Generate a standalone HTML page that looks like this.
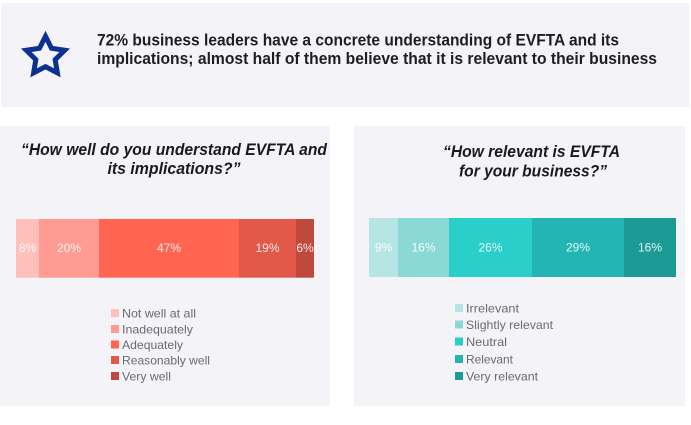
<!DOCTYPE html>
<html>
<head>
<meta charset="utf-8">
<style>
  html, body { margin:0; padding:0; background:#ffffff; }
  svg { display:block; }
  .hdr { font-family:"Liberation Sans", sans-serif; font-weight:bold; font-size:16.5px; fill:#1e1e22; }
  .ttl { font-family:"Liberation Sans", sans-serif; font-weight:bold; font-style:italic; font-size:17px; fill:#1a1a1e; }
  .lbl { font-family:"Liberation Sans", sans-serif; font-size:12px; fill:#ffffff; fill-opacity:0.88; }
  .leg { font-family:"Liberation Sans", sans-serif; font-size:12px; fill:#6a6a72; }
</style>
</head>
<body>
<svg width="691" height="425" viewBox="0 0 691 425" xmlns="http://www.w3.org/2000/svg">
  <rect x="0" y="0" width="691" height="425" fill="#ffffff"/>

  <!-- Header box -->
  <rect x="1" y="3" width="688" height="104" fill="#f3f3f8"/>
  <!-- Star outline -->
  <path fill="#0c3191" fill-rule="evenodd" d="
    M45.5,30.7 L53.14,45.98 L70.04,48.53 L57.86,60.52 L60.67,77.38 L45.5,69.5 L30.33,77.38 L33.14,60.52 L20.96,48.53 L37.86,45.98 Z
    M45.5,41.9 L49.83,50.56 L59.38,52.0 L52.5,58.8 L54.09,68.33 L45.5,63.87 L36.91,68.33 L38.5,58.8 L31.62,52.0 L41.17,50.56 Z"/>
  <text class="hdr" x="97" y="45.7" textLength="522" lengthAdjust="spacingAndGlyphs">72% business leaders have a concrete understanding of EVFTA and its</text>
  <text class="hdr" x="97" y="63.8" textLength="560" lengthAdjust="spacingAndGlyphs">implications; almost half of them believe that it is relevant to their business</text>

  <!-- Left panel -->
  <rect x="0" y="126" width="330" height="280" fill="#f3f3f8"/>
  <text class="ttl" x="21" y="155" textLength="306" lengthAdjust="spacingAndGlyphs">“How well do you understand EVFTA and</text>
  <text class="ttl" x="174" y="174" text-anchor="middle" textLength="133" lengthAdjust="spacingAndGlyphs">its implications?”</text>

  <rect x="16" y="219" width="23" height="58.7" fill="#ffbfba"/>
  <rect x="39" y="219" width="60" height="58.7" fill="#ff9b93"/>
  <rect x="99" y="219" width="140" height="58.7" fill="#ff6551"/>
  <rect x="239" y="219" width="57" height="58.7" fill="#e25949"/>
  <rect x="296" y="219" width="18" height="58.7" fill="#c0493e"/>

  <text class="lbl" x="27.5" y="252" text-anchor="middle">8%</text>
  <text class="lbl" x="69" y="252" text-anchor="middle">20%</text>
  <text class="lbl" x="169" y="252" text-anchor="middle">47%</text>
  <text class="lbl" x="267.5" y="252" text-anchor="middle">19%</text>
  <text class="lbl" x="305" y="252" text-anchor="middle">6%</text>

  <rect x="111" y="309" width="8" height="8" fill="#ffbfba"/>
  <rect x="111" y="325" width="8" height="8" fill="#ff9b93"/>
  <rect x="111" y="340.5" width="8" height="8" fill="#ff6551"/>
  <rect x="111" y="356" width="8" height="8" fill="#e25949"/>
  <rect x="111" y="372" width="8" height="8" fill="#c0493e"/>
  <text class="leg" x="122" y="317.5" textLength="74" lengthAdjust="spacingAndGlyphs">Not well at all</text>
  <text class="leg" x="122" y="333.5" textLength="71" lengthAdjust="spacingAndGlyphs">Inadequately</text>
  <text class="leg" x="122" y="349" textLength="61" lengthAdjust="spacingAndGlyphs">Adequately</text>
  <text class="leg" x="122" y="364.5" textLength="88" lengthAdjust="spacingAndGlyphs">Reasonably well</text>
  <text class="leg" x="122" y="380.5" textLength="49" lengthAdjust="spacingAndGlyphs">Very well</text>

  <!-- Right panel -->
  <rect x="354" y="126" width="331" height="280" fill="#f3f3f8"/>
  <text class="ttl" x="531.5" y="157" text-anchor="middle" textLength="177" lengthAdjust="spacingAndGlyphs">“How relevant is EVFTA</text>
  <text class="ttl" x="533" y="176.5" text-anchor="middle" textLength="148" lengthAdjust="spacingAndGlyphs">for your business?”</text>

  <rect x="369" y="218" width="29" height="59" fill="#b5e6e3"/>
  <rect x="398" y="218" width="51" height="59" fill="#8bd9d7"/>
  <rect x="449" y="218" width="83" height="59" fill="#2bcfca"/>
  <rect x="532" y="218" width="92" height="59" fill="#22b5b3"/>
  <rect x="624" y="218" width="52" height="59" fill="#1c9a96"/>

  <text class="lbl" x="383.5" y="251.5" text-anchor="middle">9%</text>
  <text class="lbl" x="423.5" y="251.5" text-anchor="middle">16%</text>
  <text class="lbl" x="490.5" y="251.5" text-anchor="middle">26%</text>
  <text class="lbl" x="578" y="251.5" text-anchor="middle">29%</text>
  <text class="lbl" x="650" y="251.5" text-anchor="middle">16%</text>

  <rect x="455" y="304" width="8" height="8" fill="#b5e6e3"/>
  <rect x="455" y="320.5" width="8" height="8" fill="#8bd9d7"/>
  <rect x="455" y="337.5" width="8" height="8" fill="#2bcfca"/>
  <rect x="455" y="355" width="8" height="8" fill="#22b5b3"/>
  <rect x="455" y="372" width="8" height="8" fill="#1c9a96"/>
  <text class="leg" x="466" y="312.5" textLength="53" lengthAdjust="spacingAndGlyphs">Irrelevant</text>
  <text class="leg" x="466" y="329" textLength="87" lengthAdjust="spacingAndGlyphs">Slightly relevant</text>
  <text class="leg" x="466" y="346" textLength="41" lengthAdjust="spacingAndGlyphs">Neutral</text>
  <text class="leg" x="466" y="363.5" textLength="47" lengthAdjust="spacingAndGlyphs">Relevant</text>
  <text class="leg" x="466" y="380.5" textLength="72" lengthAdjust="spacingAndGlyphs">Very relevant</text>
</svg>
</body>
</html>
